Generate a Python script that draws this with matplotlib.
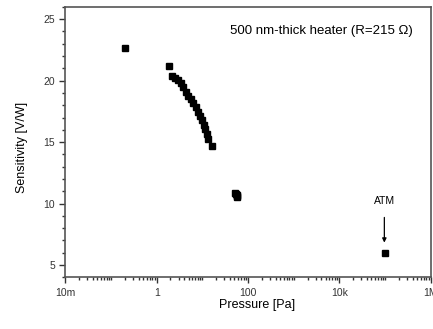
import numpy as np
import matplotlib.pyplot as plt
from matplotlib.ticker import LogLocator, FixedLocator, NullFormatter, MultipleLocator

plt.rcParams['font.family'] = ['Liberation Sans', 'DejaVu Sans']

# data
pressure = [0.20, 1.86, 2.16, 2.51, 2.97, 3.40, 3.82, 4.31, 4.91, 5.63, 6.32,
            7.13, 7.89, 8.86, 9.65, 10.8, 11.6, 12.4, 13.5, 16.2,
            52, 54, 56, 57, 58, 1.01e5]
sensitivity = [22.64, 21.18, 20.34, 20.18, 20.04, 19.80, 19.45, 19.09, 18.77, 18.5, 18.17,
               17.82, 17.46, 17.14, 16.81, 16.38, 16.06, 15.65, 15.24, 14.67,
               10.85, 10.75, 10.7, 10.6, 10.55, 5.95]
tick_pos = [1e-2, 1, 1e2, 1e4, 1e6]
tick_lab = ['10m', '1', '100', '10k', '1M']

fig = plt.figure(figsize=(4.33, 3.29), dpi=100)
ax = fig.add_axes([0.151, 0.157, 0.844, 0.822])
ax.plot(pressure, sensitivity, 's', color='black', ms=4.3, mec='black')

ax.set_xscale('log')
ax.set_xlim(1e-2, 1e6)
ax.set_ylim(4, 26)

ax.xaxis.set_major_locator(FixedLocator(tick_pos))
ax.set_xticklabels(tick_lab)
ax.xaxis.set_minor_locator(LogLocator(base=10, subs=np.arange(1, 10), numticks=30))
ax.xaxis.set_minor_formatter(NullFormatter())
ax.yaxis.set_major_locator(MultipleLocator(5))
ax.yaxis.set_minor_locator(MultipleLocator(1))

ax.tick_params(which='major', direction='out', length=4, width=1, labelsize=7.5, colors='#333333')
ax.tick_params(which='minor', direction='out', length=2.5, width=1, colors='#333333')
for s in ax.spines.values():
    s.set_color('#555555')
    s.set_linewidth(1.2)

ax.set_xlabel('Pressure [Pa]', fontsize=9, labelpad=1, x=0.525)
ax.set_ylabel('Sensitivity [V/W]', fontsize=9, labelpad=11, y=0.48)

ax.text(0.95, 0.91, '500 nm-thick heater (R=215 Ω)', transform=ax.transAxes,
        ha='right', va='center', fontsize=9.5)
ax.annotate('', xy=(9.6e4, 6.6), xytext=(9.6e4, 9.1),
            arrowprops=dict(arrowstyle='-|>', color='black', lw=0.9, mutation_scale=6))
ax.text(9.6e4, 10.2, 'ATM', ha='center', va='center', fontsize=7.5)

fig.savefig('out.png', dpi=100)
